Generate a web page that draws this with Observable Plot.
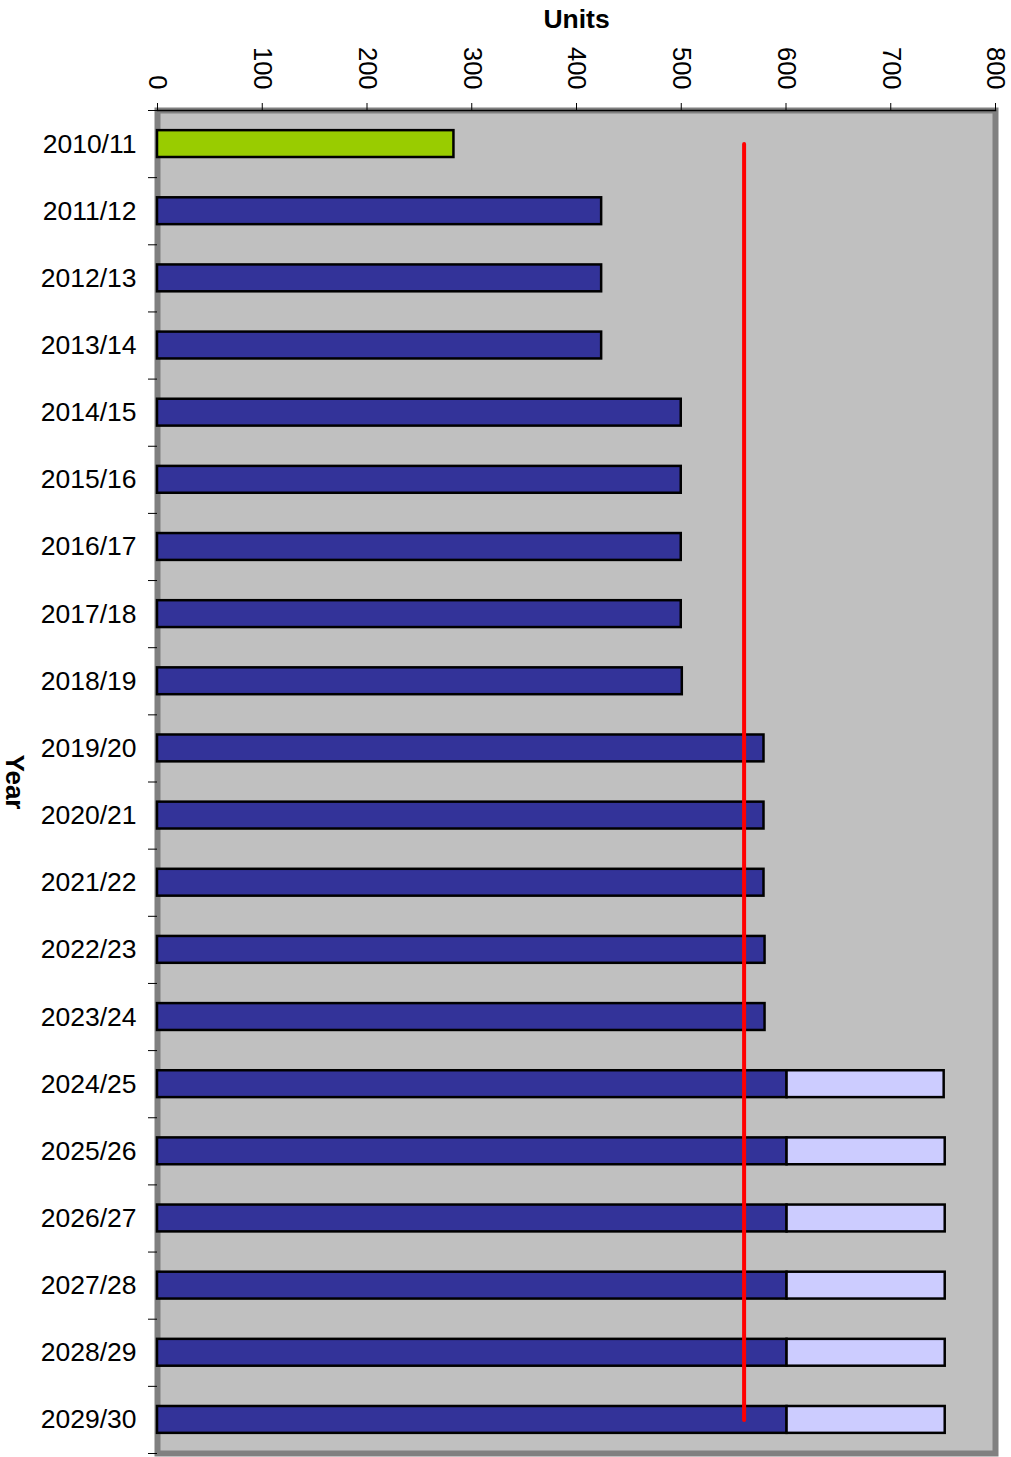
<!DOCTYPE html>
<html>
<head>
<meta charset="utf-8">
<script src="https://cdn.jsdelivr.net/npm/d3@7"></script>
<script src="https://cdn.jsdelivr.net/npm/@observablehq/plot@0.6"></script>
<style>
  html, body { margin: 0; padding: 0; background: white; }
</style>
</head>
<body>
<div id="chart"></div>
<script>
const years = ["2010/11","2011/12","2012/13","2013/14","2014/15","2015/16","2016/17","2017/18","2018/19","2019/20",
               "2020/21","2021/22","2022/23","2023/24","2024/25","2025/26","2026/27","2027/28","2028/29","2029/30"];
const baseValues = [283, 424, 424, 424, 500, 500, 500, 500, 501, 579,
                    579, 579, 580, 580, 601, 601, 601, 601, 601, 601];
const extraValues = [0, 0, 0, 0, 0, 0, 0, 0, 0, 0,
                     0, 0, 0, 0, 751, 752, 752, 752, 752, 752];
const barKinds = ["current","plan","plan","plan","plan","plan","plan","plan","plan","plan",
                  "plan","plan","plan","plan","plan","plan","plan","plan","plan","plan"];
const kindDomain = ["current", "plan", "extra"];
const kindColors = ["#99cc00", "#333399", "#ccccff"];
const targetValue = 560;
const xTicks = [0, 100, 200, 300, 400, 500, 600, 700, 800];

const baseBars = years.map((year, i) => ({year, x1: 0, x2: baseValues[i], kind: barKinds[i]}));
const extraBars = years.map((year, i) => ({year, x1: baseValues[i], x2: extraValues[i], kind: "extra"}))
                       .filter(d => d.x2 > 0);
const targetLine = [{year: years[0], x: targetValue}, {year: years[years.length - 1], x: targetValue}];

const H = 1457, mTop = 110, mBottom = 4;
const step = (H - mTop - mBottom) / years.length;

const chart = Plot.plot({
  width: 1011,
  height: H,
  marginLeft: 157,
  marginRight: 16,
  marginTop: mTop,
  marginBottom: mBottom,
  style: {fontFamily: "'Liberation Sans', Arial, sans-serif", background: "white", color: "black"},
  x: {domain: [0, 800], axis: null},
  y: {domain: years, axis: null, paddingInner: 0.6, paddingOuter: 0.3, round: false},
  color: {domain: kindDomain, range: kindColors},
  marks: [
    Plot.frame({fill: "#c0c0c0", stroke: "#808080", strokeWidth: 6}),
    Plot.barX(baseBars, {x1: "x1", x2: "x2", y: "year", fill: "kind", stroke: "black", strokeWidth: 2.5}),
    Plot.barX(extraBars, {x1: "x1", x2: "x2", y: "year", fill: "kind", stroke: "black", strokeWidth: 2.5}),
    Plot.line(targetLine, {x: "x", y: "year", stroke: "#ff0000", strokeWidth: 4, strokeLinecap: "round"}),
    Plot.frame({anchor: "top", stroke: "black", strokeWidth: 1.5}),
    Plot.axisX(xTicks, {anchor: "top", tickSize: 8, tickRotate: 90, tickPadding: 13, fontSize: 25.5, label: null}),
    Plot.axisY({tickSize: 0, tickPadding: 21, fontSize: 26.5, label: null}),
    Plot.axisY(years, {tickSize: 9, tickFormat: () => "", dy: -step / 2, label: null}),
    Plot.axisY([years[years.length - 1]], {tickSize: 9, tickFormat: () => "", dy: step / 2, label: null}),
    Plot.text(["Units"], {text: d => d, frameAnchor: "top", dy: -101, fontSize: 26.5, fontWeight: "bold"}),
    Plot.text(["Year"], {text: d => d, frameAnchor: "left", textAnchor: "middle", dx: -143, rotate: 90, fontSize: 26, fontWeight: "bold"})
  ]
});
document.getElementById("chart").appendChild(chart);
</script>
</body>
</html>
